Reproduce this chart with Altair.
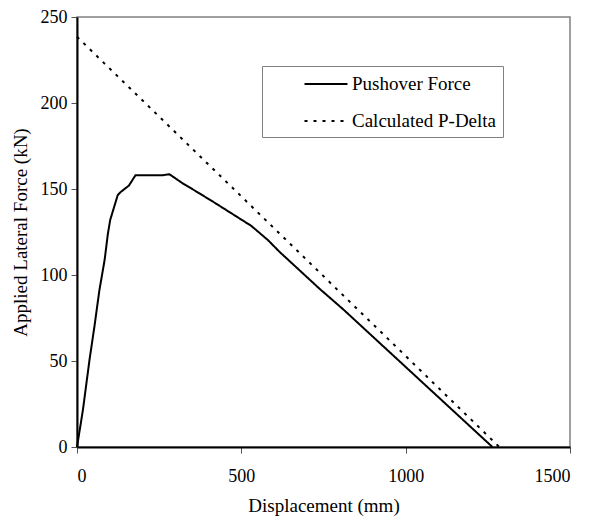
import altair as alt
import pandas as pd

# Pushover curve (mm, kN)
push_x = [0, 18, 38, 53, 68, 84, 94, 101, 124, 134, 158, 178, 261, 281, 320, 373, 414, 530, 581, 616, 738, 809, 1264]
push_y = [0, 21.5, 50.6, 70, 91, 108.7, 124, 132, 146.5, 148.4, 152, 158, 158, 158.6, 153.5, 147.4, 142.6, 128.6, 120.3, 113.5, 92, 80.2, 0]

# Calculated P-Delta line
pd_x = [0, 1285]
pd_y = [238.5, 0]

series = ["Pushover Force", "Calculated P-Delta"]

rows = []
for i, (x, y) in enumerate(zip(push_x, push_y)):
    rows.append({"d": x, "f": y, "s": series[0], "o": i})
for i, (x, y) in enumerate(zip(pd_x, pd_y)):
    rows.append({"d": x, "f": y, "s": series[1], "o": i})
df = pd.DataFrame(rows)

FONT = "Liberation Serif"

chart = alt.Chart(df).mark_line(strokeWidth=2, color="black").encode(
    x=alt.X("d:Q", scale=alt.Scale(domain=[0, 1500], nice=False),
            axis=alt.Axis(values=[0, 500, 1000, 1500], format="d", title="Displacement (mm)")),
    y=alt.Y("f:Q", scale=alt.Scale(domain=[0, 250], nice=False),
            axis=alt.Axis(values=[0, 50, 100, 150, 200, 250], format="d", title="Applied Lateral Force (kN)")),
    strokeDash=alt.StrokeDash("s:N",
        scale=alt.Scale(domain=series, range=[[1, 0], [3, 6]]),
        legend=alt.Legend(title=None, orient="none", legendX=185, legendY=49,
                          symbolType="M-2,0H2", symbolSize=462, symbolStrokeWidth=2,
                          symbolStrokeColor="black", symbolOffset=46,
                          labelFont=FONT, labelFontSize=19, labelColor="black",
                          labelOffset=14, labelLimit=300,
                          labelExpr="datum.label + '\u00a0\u00a0\u00a0\u00a0'",
                          padding=6, rowPadding=15,
                          strokeColor="#808080", fillColor="white")),
    order="o:Q",
).properties(
    width=493, height=430,
    autosize=alt.AutoSizeParams(type="none"),
    padding={"left": 77, "top": 17, "right": 20, "bottom": 74},
).configure_view(
    stroke="#808080", strokeWidth=1.5
).configure_axis(
    grid=False, domainColor="black", domainWidth=2,
    tickColor="#555555", tickSize=6,
    labelFont=FONT, labelFontSize=18, labelColor="black",
    titleFont=FONT, titleFontSize=19, titleFontWeight="normal", titleColor="black",
).configure_axisX(
    labelPadding=14, titlePadding=11
).configure_axisY(
    labelPadding=4, titlePadding=10
)

chart.save("out.html", embed_options={"renderer": "svg", "actions": False})
